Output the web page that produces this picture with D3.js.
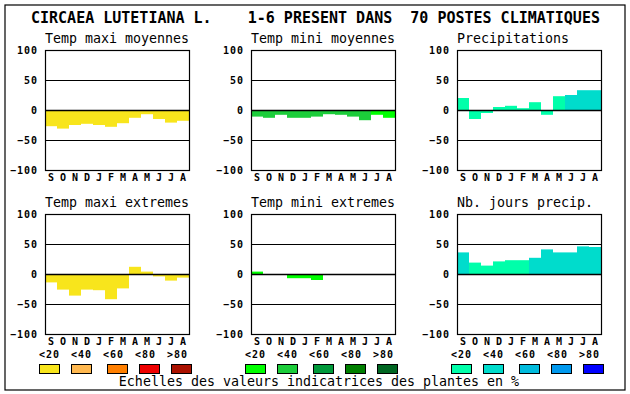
<!DOCTYPE html>
<html>
<head>
<meta charset="utf-8">
<script src="https://cdn.jsdelivr.net/npm/d3@7"></script>
<style>
    body { margin: 0; background: #fff; }
    svg text { font-family: "DejaVu Sans Mono", monospace; white-space: pre; }
</style>
</head>
<body>
<svg id="svg"></svg>
<script>
// data
const months = ["S", "O", "N", "D", "J", "F", "M", "A", "M", "J", "J", "A"];
const yTicks = [100, 50, 0, -50, -100];
const classLabels = ["<20", "<40", "<60", "<80", ">80"];

const tmaxMoy = [-27, -31, -25, -23, -25, -28, -22, -13, -7, -15, -21, -18];
const tmaxMoyClass = [0, 0, 0, 0, 0, 0, 0, 0, 0, 0, 0, 0];
const tminMoy = [-11, -13, -8, -13, -13, -11, -7, -8, -11, -17, -8, -13];
const tminMoyClass = [1, 1, 1, 1, 1, 1, 1, 1, 1, 1, 0, 0];
const precip = [20, -15, -5, 5, 7, 3, 13, -8, 23, 25, 33, 33];
const precipClass = [0, 0, 0, 0, 0, 0, 0, 0, 0, 1, 1, 1];
const tmaxExt = [-14, -26, -36, -26, -27, -42, -24, 12, 4, -4, -11, -6];
const tmaxExtClass = [0, 0, 0, 0, 0, 0, 0, 0, 0, 0, 0, 0];
const tminExt = [4, 0, -1, -7, -7, -10, -1, -1, 0, 0, 0, -1];
const tminExtClass = [0, 0, 0, 0, 0, 0, 0, 0, 0, 0, 0, 0];
const joursPrecip = [36, 19, 14, 21, 23, 23, 27, 41, 36, 36, 46, 45];
const joursPrecipClass = [1, 0, 0, 0, 0, 0, 1, 1, 1, 1, 1, 1];

const yellowScale = ["#f8e51c", "#ffb84f", "#ff7f00", "#ee0000", "#aa1100"];
const greenScale = ["#00ff00", "#1ccd3a", "#00993a", "#007f00", "#006622"];
const blueScale = ["#00ffaa", "#00dccc", "#00bbdd", "#0099ee", "#0000ff"];

const width = 630;
const height = 394;
const panelWidth = 144;
const panelHeight = 120;
const panelLefts = [45, 251, 457];
const panelTops = [50, 214];
const boxOffsets = [-6, 26, 62, 94, 126];

let svg = d3.select("#svg");

let xScale = d3.scaleBand()
    .domain(d3.range(months.length))
    .range([0, panelWidth])
    .padding(0);

let yScale = d3.scaleLinear()
    .domain([-100, 100])
    .range([panelHeight, 0]);

// small bold labels (ticks, months, legend)
function smallBold(sel) {
    sel.attr("font-family", null)
        .style("font-size", "10px")
        .style("font-weight", "bold")
        .style("letter-spacing", "1px")
        .attr("fill", "#000");
}

function drawPanel(left, top, title, values, classes, colors) {
    const g = svg.append("g")
        .attr("transform", `translate(${left},${top})`);

    g.append("text")
        .attr("x", 0)
        .attr("y", -7)
        .style("font-size", "13.3px")
        .text(title);

    // bars go from zero to the value
    g.selectAll(".bar")
        .data(values)
        .enter().append("rect")
        .attr("class", "bar")
        .attr("x", (d, i) => xScale(i))
        .attr("width", xScale.bandwidth())
        .attr("y", d => Math.min(yScale(d), yScale(0)))
        .attr("height", d => Math.abs(yScale(d) - yScale(0)))
        .attr("fill", (d, i) => colors[classes[i]]);

    g.selectAll(".grid")
        .data([50, 0, -50])
        .enter().append("line")
        .attr("class", "grid")
        .attr("x1", 0)
        .attr("x2", panelWidth)
        .attr("y1", d => yScale(d) + 0.5)
        .attr("y2", d => yScale(d) + 0.5)
        .attr("stroke", "#000")
        .attr("stroke-width", d => d == 0 ? 1.5 : 1);

    g.append("rect")
        .attr("x", 0.5)
        .attr("y", 0.5)
        .attr("width", panelWidth)
        .attr("height", panelHeight)
        .attr("fill", "none")
        .attr("stroke", "#000")
        .attr("stroke-width", 1.2);

    const yAxis = g.append("g")
        .call(d3.axisLeft(yScale).tickValues(yTicks).tickSize(0).tickPadding(7));
    yAxis.select(".domain").remove();
    yAxis.selectAll("text")
        .call(smallBold)
        .attr("dy", "0.35em");

    const xAxis = g.append("g")
        .attr("transform", `translate(0,${panelHeight})`)
        .call(d3.axisBottom(xScale).tickFormat(i => months[i]).tickSize(0).tickPadding(0));
    xAxis.select(".domain").remove();
    xAxis.selectAll("text")
        .call(smallBold)
        .attr("x", 0.5)
        .attr("y", 10.5)
        .attr("dy", null);
}

function drawLegend(left, colors) {
    const g = svg.append("g")
        .attr("transform", `translate(${left},0)`);

    g.selectAll(".leg-label")
        .data(classLabels)
        .enter().append("text")
        .attr("class", "leg-label")
        .attr("x", (d, i) => -6 + 32 * i)
        .attr("y", 357.5)
        .call(smallBold)
        .text(d => d);

    g.selectAll(".leg-box")
        .data(colors)
        .enter().append("rect")
        .attr("class", "leg-box")
        .attr("x", (d, i) => boxOffsets[i] + 0.5)
        .attr("y", 364.5)
        .attr("width", 20)
        .attr("height", 9)
        .attr("fill", d => d)
        .attr("stroke", "#000");
}

function initializeSVG() {
    svg.attr("width", width);
    svg.attr("height", height);

    svg.append("rect")
        .attr("x", 5)
        .attr("y", 5)
        .attr("width", 620)
        .attr("height", 385)
        .attr("fill", "#fff")
        .attr("stroke", "#000")
        .attr("stroke-width", 1.2);

    svg.append("text")
        .attr("x", 31)
        .attr("y", 23)
        .style("font-size", "15px")
        .style("font-weight", "bold")
        .text("CIRCAEA LUTETIANA L.    1-6 PRESENT DANS  70 POSTES CLIMATIQUES");

    drawPanel(panelLefts[0], panelTops[0], "Temp maxi moyennes", tmaxMoy, tmaxMoyClass, yellowScale);
    drawPanel(panelLefts[1], panelTops[0], "Temp mini moyennes", tminMoy, tminMoyClass, greenScale);
    drawPanel(panelLefts[2], panelTops[0], "Precipitations", precip, precipClass, blueScale);
    drawPanel(panelLefts[0], panelTops[1], "Temp maxi extremes", tmaxExt, tmaxExtClass, yellowScale);
    drawPanel(panelLefts[1], panelTops[1], "Temp mini extremes", tminExt, tminExtClass, greenScale);
    drawPanel(panelLefts[2], panelTops[1], "Nb. jours precip.", joursPrecip, joursPrecipClass, blueScale);

    drawLegend(panelLefts[0], yellowScale);
    drawLegend(panelLefts[1], greenScale);
    drawLegend(panelLefts[2], blueScale);

    svg.append("text")
        .attr("x", 319)
        .attr("y", 386)
        .attr("text-anchor", "middle")
        .style("font-size", "13.3px")
        .text("Echelles des valeurs indicatrices des plantes en %");
}

initializeSVG();
</script>
</body>
</html>
